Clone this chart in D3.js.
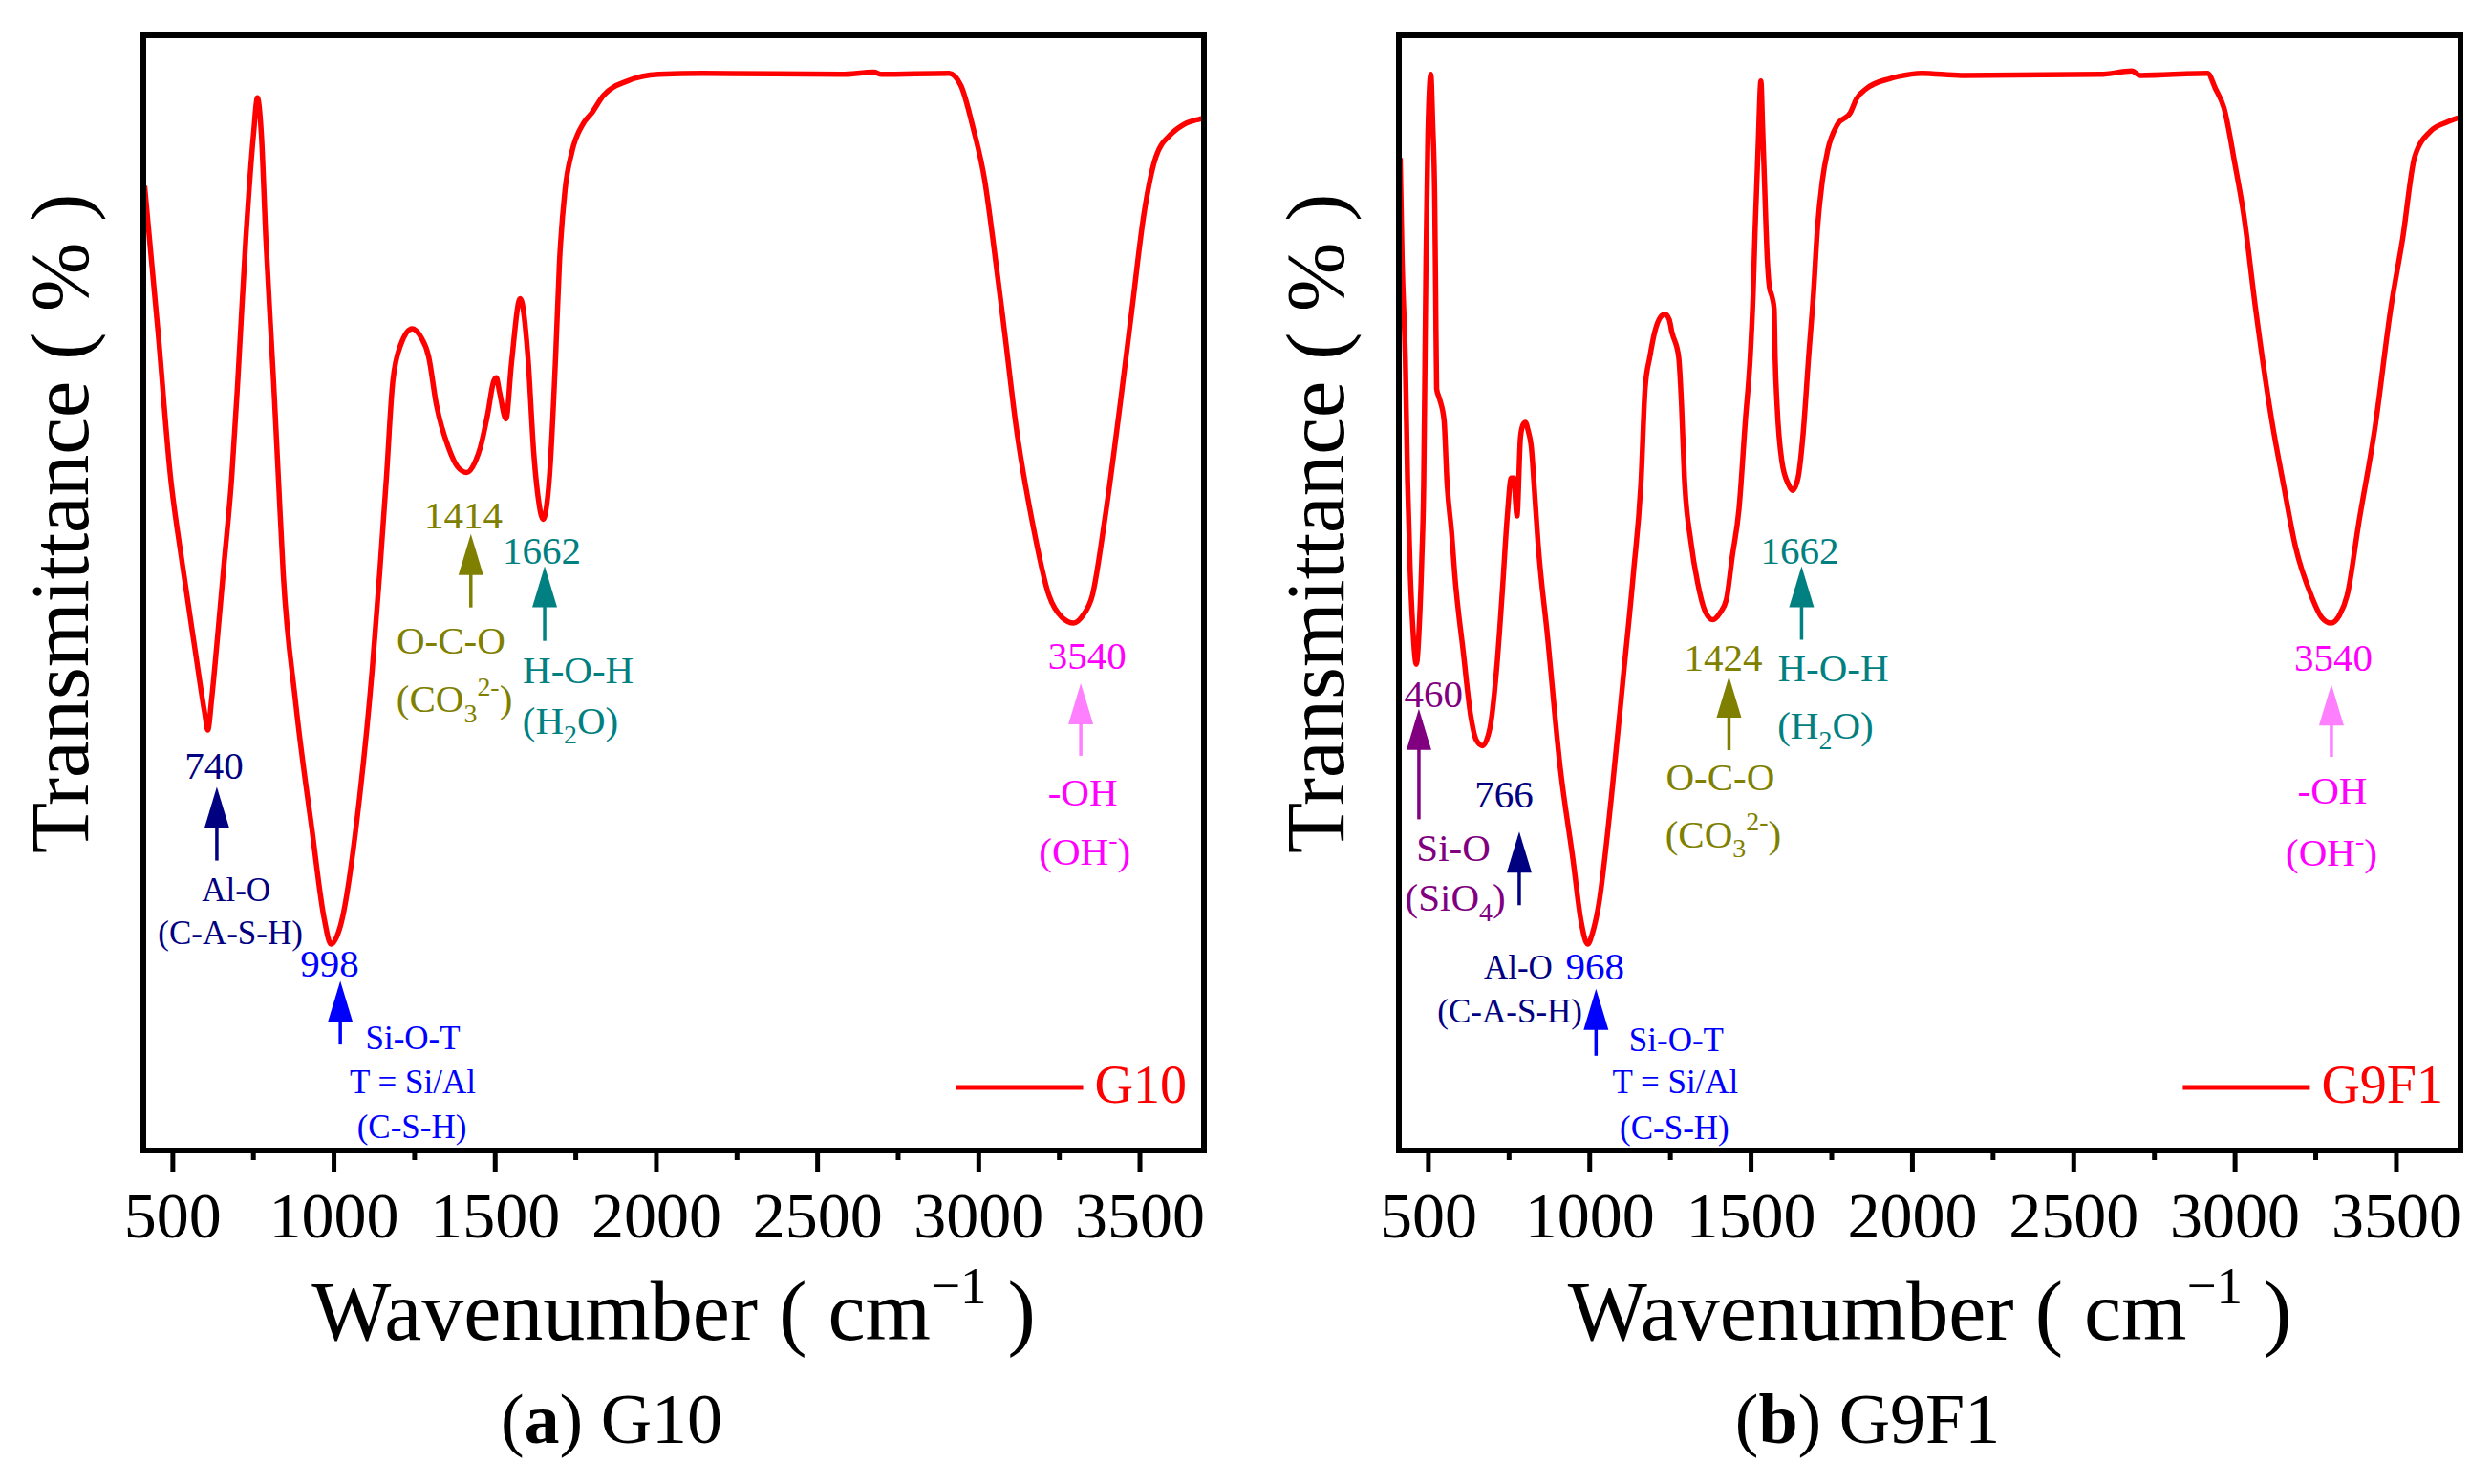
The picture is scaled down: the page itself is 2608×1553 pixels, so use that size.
<!DOCTYPE html>
<html>
<head>
<meta charset="utf-8">
<script src="https://cdn.jsdelivr.net/npm/d3@7"></script>
<style>
  body { margin: 0; background: #fff; }
  svg { display: block; }
  text { font-family: "Liberation Serif", "Times New Roman", serif; }
</style>
</head>
<body>
<svg id="chart" width="2608" height="1553"></svg>
<script>
// spectra (wavenumber, transmittance in arbitrary %)
const g10Wave = [414, 456, 494, 530, 570, 600, 610, 622, 640, 660, 684, 703, 728, 752, 764, 776, 790, 814, 829, 844,
  882, 933, 971, 992, 1022, 1081, 1120, 1143, 1164, 1184, 1209, 1244, 1270, 1295, 1319, 1357, 1385, 1413, 1440, 1455,
  1478, 1497, 1505, 1515, 1535, 1552, 1579, 1603, 1621, 1635, 1650, 1670, 1689, 1701, 1718, 1739, 1775, 1800, 1837, 1911,
  2009, 2145, 2575, 2676, 2700, 2910, 2946, 2984, 3020, 3045, 3082, 3118, 3168, 3219, 3260, 3296, 3325, 3354, 3391, 3440,
  3477, 3514, 3551, 3600, 3637, 3687, 3700];
const g10Trans = [86.5, 73.3, 60.5, 52.8, 45.0, 39.3, 37.7, 40.5, 46.0, 52.5, 60.3, 69.0, 81.8, 91.2, 94.4, 91.2, 81.8, 69.0, 60.3, 51.7,
  40.3, 28.8, 20.8, 18.5, 20.2, 31.7, 43.1, 51.7, 60.3, 69.0, 72.3, 73.7, 73.0, 71.2, 66.9, 63.0, 61.3, 60.8, 61.8, 63.0,
  66.0, 69.0, 69.3, 68.0, 65.6, 70.6, 76.4, 71.2, 62.6, 58.5, 56.6, 60.5, 71.2, 79.7, 86.1, 89.5, 92.1, 93.0, 94.6, 95.9,
  96.5, 96.6, 96.5, 96.7, 96.5, 96.6, 95.5, 91.7, 87.0, 81.8, 73.3, 64.8, 56.3, 49.8, 47.8, 47.3, 48.0, 49.8, 56.3, 66.9,
  75.5, 84.0, 89.1, 91.2, 92.0, 92.5, 92.6];

const g9f1Wave = [414, 420, 430, 437, 445, 453, 464, 474, 481, 487, 491, 494, 500, 509, 515, 521, 524, 527, 536, 550,
  559, 574, 583, 610, 633, 650, 669, 693, 713, 731, 746, 758, 767, 772, 776, 787, 795, 802, 811, 820,
  832, 841, 871, 909, 950, 975, 995, 1010, 1028, 1069, 1108, 1137, 1161, 1173, 1188, 1203, 1220, 1235, 1248, 1256,
  1277, 1286, 1295, 1315, 1336, 1360, 1383, 1405, 1425, 1443, 1464, 1484, 1499, 1508, 1514, 1523, 1532, 1537, 1543, 1552,
  1558, 1567, 1573, 1576, 1582, 1597, 1618, 1630, 1647, 1662, 1680, 1695, 1707, 1722, 1739, 1769, 1810, 1828, 1858, 1929,
  1956, 2030, 2153, 2584, 2682, 2707, 2916, 2941, 2967, 3002, 3028, 3065, 3115, 3151, 3189, 3237, 3270, 3299, 3325, 3349,
  3385, 3435, 3484, 3521, 3558, 3607, 3657, 3693];
const g9f1Trans = [89.0, 79.8, 71.0, 60.0, 52.0, 47.0, 43.6, 47.5, 53.0, 60.0, 71.2, 79.8, 91.2, 96.5, 92.0, 85.4, 76.9, 68.3, 67.4, 65.5,
  60.0, 55.2, 51.7, 44.6, 38.9, 36.8, 36.3, 38.0, 43.2, 50.3, 56.9, 60.3, 60.3, 58.0, 56.9, 64.0, 65.1, 65.3, 64.5, 63.2,
  58.4, 54.6, 46.0, 34.6, 26.0, 20.5, 18.5, 19.5, 21.8, 31.8, 43.2, 51.8, 60.3, 68.3, 71.2, 73.4, 74.7, 75.0, 74.5, 73.4,
  71.2, 66.9, 60.3, 54.6, 50.9, 48.3, 47.6, 48.2, 49.4, 53.2, 57.5, 65.5, 71.2, 76.9, 82.6, 89.7, 95.9, 92.0, 86.9, 79.8,
  77.5, 76.5, 75.5, 71.2, 66.9, 61.8, 59.7, 59.2, 60.3, 64.0, 71.2, 76.9, 82.6, 86.9, 89.7, 92.0, 93.1, 94.3, 95.2, 96.1,
  96.3, 96.6, 96.4, 96.5, 96.8, 96.4, 96.6, 95.2, 93.5, 88.3, 84.0, 75.5, 65.5, 59.8, 54.1, 49.8, 47.8, 47.3, 48.0, 49.8,
  56.3, 64.8, 75.5, 81.8, 89.1, 91.4, 92.2, 92.6];

const majorTicks = [500, 1000, 1500, 2000, 2500, 3000, 3500];
const minorTicks = [750, 1250, 1750, 2250, 2750, 3250];

// band annotations: arrow tip / tail in data units
const g10Arrows = [
  { wn: 1426, tip: 55.3, tail: 48.7, tone: "olive" },
  { wn: 1655, tip: 52.4, tail: 45.7, tone: "teal" },
  { wn: 638, tip: 32.6, tail: 26.0, tone: "navy" },
  { wn: 1021, tip: 15.2, tail: 9.5, tone: "blue" },
  { wn: 3318, tip: 41.9, tail: 35.4, tone: "pink" }
];
const g10Labels = [
  { wn: 1403, v: 55.8, tone: "olive", parts: [["1414"]] },
  { wn: 1364, v: 44.6, tone: "olive", parts: [["O-C-O"]] },
  { wn: 1375, v: 39.3, tone: "olive", parts: [["(CO"], ["3", "sub"], ["2-", "sup"], [")"]] },
  { wn: 1646, v: 52.6, tone: "teal", parts: [["1662"]] },
  { wn: 1759, v: 41.9, tone: "teal", parts: [["H-O-H"]] },
  { wn: 1735, v: 37.4, tone: "teal", parts: [["(H"], ["2", "sub"], ["O)"]] },
  { wn: 629, v: 33.3, tone: "navy", parts: [["740"]] },
  { wn: 698, v: 22.4, tone: "navy", small: true, parts: [["Al-O"]] },
  { wn: 680, v: 18.5, tone: "navy", small: true, parts: [["(C-A-S-H)"]] },
  { wn: 988, v: 15.6, tone: "blue", parts: [["998"]] },
  { wn: 1246, v: 9.1, tone: "blue", small: true, parts: [["Si-O-T"]] },
  { wn: 1246, v: 5.1, tone: "blue", small: true, parts: [["T = Si/Al"]] },
  { wn: 1243, v: 1.1, tone: "blue", small: true, parts: [["(C-S-H)"]] },
  { wn: 3338, v: 43.2, tone: "magenta", parts: [["3540"]] },
  { wn: 3324, v: 30.9, tone: "magenta", parts: [["-OH"]] },
  { wn: 3330, v: 25.6, tone: "magenta", parts: [["(OH"], ["-", "sup"], [")"]] }
];

const g9f1Arrows = [
  { wn: 472, tip: 39.6, tail: 29.7, tone: "purple" },
  { wn: 783, tip: 28.6, tail: 22.0, tone: "navy" },
  { wn: 1021, tip: 14.5, tail: 8.5, tone: "blue" },
  { wn: 1433, tip: 42.5, tail: 35.9, tone: "olive" },
  { wn: 1658, tip: 52.4, tail: 45.8, tone: "teal" },
  { wn: 3300, tip: 41.8, tail: 35.3, tone: "pink" }
];
const g9f1Labels = [
  { wn: 517, v: 39.8, tone: "purple", parts: [["460"]] },
  { wn: 579, v: 26.0, tone: "purple", parts: [["Si-O"]] },
  { wn: 585, v: 21.5, tone: "purple", parts: [["(SiO"], ["4", "sub"], [")"]] },
  { wn: 736, v: 30.8, tone: "navy", parts: [["766"]] },
  { wn: 780, v: 15.4, tone: "navy", small: true, parts: [["Al-O"]] },
  { wn: 754, v: 11.5, tone: "navy", small: true, parts: [["(C-A-S-H)"]] },
  { wn: 1018, v: 15.3, tone: "blue", parts: [["968"]] },
  { wn: 1270, v: 8.9, tone: "blue", small: true, parts: [["Si-O-T"]] },
  { wn: 1267, v: 5.1, tone: "blue", small: true, parts: [["T = Si/Al"]] },
  { wn: 1264, v: 1.0, tone: "blue", small: true, parts: [["(C-S-H)"]] },
  { wn: 1415, v: 43.0, tone: "olive", parts: [["1424"]] },
  { wn: 1406, v: 32.3, tone: "olive", parts: [["O-C-O"]] },
  { wn: 1415, v: 27.2, tone: "olive", parts: [["(CO"], ["3", "sub"], ["2-", "sup"], [")"]] },
  { wn: 1652, v: 52.6, tone: "teal", parts: [["1662"]] },
  { wn: 1756, v: 42.1, tone: "teal", parts: [["H-O-H"]] },
  { wn: 1732, v: 36.9, tone: "teal", parts: [["(H"], ["2", "sub"], ["O)"]] },
  { wn: 3306, v: 43.0, tone: "magenta", parts: [["3540"]] },
  { wn: 3303, v: 31.1, tone: "magenta", parts: [["-OH"]] },
  { wn: 3300, v: 25.5, tone: "magenta", parts: [["(OH"], ["-", "sup"], [")"]] }
];

const tones = {
  olive: "#808000", teal: "#008080", navy: "#000080", blue: "#0000ff",
  magenta: "#ff00ff", pink: "#ff80ff", purple: "#800080"
};

const svg = d3.select("#chart");
svg.append("rect").attr("width", 2608).attr("height", 1553).attr("fill", "#fff");

function rich(sel, parts, size) {
  let off = 0;
  parts.forEach(([t, k]) => {
    const target = k === "sub" ? 0.26 * size : k === "sup" ? -0.42 * size : 0;
    sel.append("tspan")
      .attr("dy", target - off)
      .attr("font-size", k ? 0.68 * size : size)
      .text(t);
    off = target;
  });
}

function drawPanel(p) {
  let x = d3.scaleLinear().domain([410, 3700]).range([p.x0, p.x1]);
  let y = d3.scaleLinear().domain([0, 100]).range([p.y1, p.y0]);
  let g = svg.append("g");

  g.append("clipPath").attr("id", "clip-" + p.id)
    .append("rect")
    .attr("x", p.x0).attr("y", p.y0)
    .attr("width", p.x1 - p.x0).attr("height", p.y1 - p.y0);

  let line = d3.line()
    .x(d => x(d[0]))
    .y(d => y(d[1]))
    .curve(d3.curveMonotoneX);

  g.append("path")
    .datum(d3.zip(p.wave, p.trans))
    .attr("clip-path", "url(#clip-" + p.id + ")")
    .attr("fill", "none")
    .attr("stroke", "#ff0000")
    .attr("stroke-width", 5.5)
    .attr("stroke-linejoin", "round")
    .attr("d", line);

  // arrows
  const headLen = 43, headHalf = 13;
  p.arrows.forEach(a => {
    let ax = x(a.wn), tipY = y(a.tip), tailY = y(a.tail);
    g.append("line")
      .attr("x1", ax).attr("x2", ax)
      .attr("y1", tipY + headLen - 2).attr("y2", tailY)
      .attr("stroke", tones[a.tone]).attr("stroke-width", 3.5);
    g.append("path")
      .attr("d", `M${ax},${tipY}L${ax - headHalf},${tipY + headLen}L${ax + headHalf},${tipY + headLen}Z`)
      .attr("fill", tones[a.tone]);
  });

  // band labels
  p.labels.forEach(l => {
    let t = g.append("text")
      .attr("x", x(l.wn)).attr("y", y(l.v))
      .attr("text-anchor", "middle")
      .attr("fill", tones[l.tone]);
    rich(t, l.parts, l.small ? 35 : 41);
  });

  // frame
  g.append("rect")
    .attr("x", p.x0).attr("y", p.y0)
    .attr("width", p.x1 - p.x0).attr("height", p.y1 - p.y0)
    .attr("fill", "none").attr("stroke", "#000").attr("stroke-width", 6);

  // x axis, ticks pointing out
  let axis = g.append("g")
    .attr("transform", `translate(0,${p.y1})`)
    .call(d3.axisBottom(x).tickValues(majorTicks).tickSize(22).tickFormat(d3.format("d")));
  axis.select(".domain").remove();
  axis.selectAll(".tick line").attr("stroke", "#000").attr("stroke-width", 5);
  axis.selectAll(".tick text")
    .attr("y", 91).attr("dy", null)
    .attr("fill", "#000")
    .style("font-family", '"Liberation Serif", "Times New Roman", serif')
    .style("font-size", "68px");

  let minor = g.append("g")
    .attr("transform", `translate(0,${p.y1})`)
    .call(d3.axisBottom(x).tickValues(minorTicks).tickSize(10).tickFormat(""));
  minor.select(".domain").remove();
  minor.selectAll(".tick line").attr("stroke", "#000").attr("stroke-width", 5);

  // axis titles
  let cx = (p.x0 + p.x1) / 2;
  let xt = g.append("text")
    .attr("x", cx).attr("y", 1402)
    .attr("text-anchor", "middle")
    .attr("font-size", 88);
  xt.append("tspan").text("Wavenumber ( cm");
  xt.append("tspan").attr("dy", -38).attr("font-size", 55).text("\u22121");
  xt.append("tspan").attr("dy", 38).text(" )");

  g.append("text")
    .attr("transform", `translate(${p.x0 - 58},548) rotate(-90)`)
    .attr("text-anchor", "middle")
    .attr("font-size", 87)
    .text("Transmittance ( % )");

  // legend
  let lt = g.append("text")
    .attr("x", p.x1 - 18).attr("y", p.y1 - 50)
    .attr("text-anchor", "end")
    .attr("font-size", 56)
    .attr("fill", "#ff0000")
    .text(p.name);
  let lx = p.x1 - 18 - lt.node().getComputedTextLength() - 12;
  g.append("line")
    .attr("x1", lx - 133).attr("x2", lx)
    .attr("y1", p.y1 - 66).attr("y2", p.y1 - 66)
    .attr("stroke", "#ff0000").attr("stroke-width", 5);

  // caption
  let cap = g.append("text")
    .attr("x", cx - 65).attr("y", 1510)
    .attr("text-anchor", "middle")
    .attr("font-size", 74);
  cap.append("tspan").text("(");
  cap.append("tspan").attr("font-weight", "bold").text(p.letter);
  cap.append("tspan").text(") " + p.name);
}

drawPanel({ id: "a", x0: 150, x1: 1260, y0: 37, y1: 1204, wave: g10Wave, trans: g10Trans,
  arrows: g10Arrows, labels: g10Labels, name: "G10", letter: "a" });
drawPanel({ id: "b", x0: 1464, x1: 2575, y0: 37, y1: 1204, wave: g9f1Wave, trans: g9f1Trans,
  arrows: g9f1Arrows, labels: g9f1Labels, name: "G9F1", letter: "b" });
</script>
</body>
</html>
